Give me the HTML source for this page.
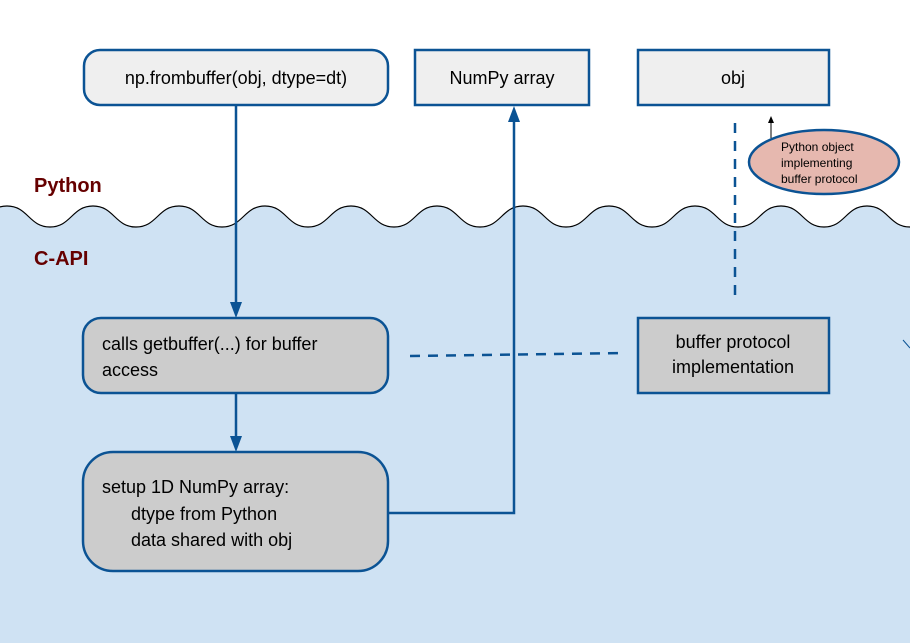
<!DOCTYPE html>
<html><head><meta charset="utf-8"><style>
html,body{margin:0;padding:0;background:#fff;}
svg{display:block;font-family:"Liberation Sans",Arial,sans-serif;}
</style></head><body>
<svg width="910" height="643" viewBox="0 0 910 643">
<path d="M-36,227 c21,0 22,-21 43,-21 c21,0 22,21 43,21 c21,0 22,-21 43,-21 c21,0 22,21 43,21 c21,0 22,-21 43,-21 c21,0 22,21 43,21 c21,0 22,-21 43,-21 c21,0 22,21 43,21 c21,0 22,-21 43,-21 c21,0 22,21 43,21 c21,0 22,-21 43,-21 c21,0 22,21 43,21 c21,0 22,-21 43,-21 c21,0 22,21 43,21 c21,0 22,-21 43,-21 c21,0 22,21 43,21 c21,0 22,-21 43,-21 c21,0 22,21 43,21 c21,0 22,-21 43,-21 c21,0 22,21 43,21 c21,0 22,-21 43,-21 c21,0 22,21 43,21 c21,0 22,-21 43,-21 c21,0 22,21 43,21 L996,643 L-36,643 z" fill="#cfe2f3" stroke="none"/>
<path d="M-36,227 c21,0 22,-21 43,-21 c21,0 22,21 43,21 c21,0 22,-21 43,-21 c21,0 22,21 43,21 c21,0 22,-21 43,-21 c21,0 22,21 43,21 c21,0 22,-21 43,-21 c21,0 22,21 43,21 c21,0 22,-21 43,-21 c21,0 22,21 43,21 c21,0 22,-21 43,-21 c21,0 22,21 43,21 c21,0 22,-21 43,-21 c21,0 22,21 43,21 c21,0 22,-21 43,-21 c21,0 22,21 43,21 c21,0 22,-21 43,-21 c21,0 22,21 43,21 c21,0 22,-21 43,-21 c21,0 22,21 43,21 c21,0 22,-21 43,-21 c21,0 22,21 43,21 c21,0 22,-21 43,-21 c21,0 22,21 43,21" fill="none" stroke="#000" stroke-width="1.2"/>
<text x="34" y="192" font-size="20" font-weight="bold" fill="#660000">Python</text>
<text x="34" y="265" font-size="20" font-weight="bold" fill="#660000">C-API</text>

<rect x="84" y="50" width="304" height="55" rx="16" fill="#efefef" stroke="#0b5394" stroke-width="2.5"/>
<text x="236" y="84" font-size="18" text-anchor="middle" fill="#000">np.frombuffer(obj, dtype=dt)</text>
<rect x="415" y="50" width="174" height="55" fill="#efefef" stroke="#0b5394" stroke-width="2.5"/>
<text x="502" y="84" font-size="18" text-anchor="middle">NumPy array</text>
<rect x="638" y="50" width="191" height="55" fill="#efefef" stroke="#0b5394" stroke-width="2.5"/>
<text x="733" y="84" font-size="18" text-anchor="middle">obj</text>

<rect x="83" y="318" width="305" height="75" rx="18" fill="#cccccc" stroke="#0b5394" stroke-width="2.5"/>
<text x="102" y="350" font-size="18">calls getbuffer(...) for buffer</text>
<text x="102" y="376" font-size="18">access</text>
<rect x="83" y="452" width="305" height="119" rx="30" fill="#cccccc" stroke="#0b5394" stroke-width="2.5"/>
<text x="102" y="493" font-size="18">setup 1D NumPy array:</text>
<text x="131" y="520" font-size="18">dtype from Python</text>
<text x="131" y="546" font-size="18">data shared with obj</text>
<rect x="638" y="318" width="191" height="75" fill="#cccccc" stroke="#0b5394" stroke-width="2.5"/>
<text x="733" y="348" font-size="18" text-anchor="middle">buffer protocol</text>
<text x="733" y="373" font-size="18" text-anchor="middle">implementation</text>

<g stroke="#0b5394" stroke-width="2.5" fill="none">
<line x1="236" y1="105" x2="236" y2="305"/>
<line x1="236" y1="393" x2="236" y2="440"/>
<polyline points="389,513 514,513 514,120"/>
<line x1="410" y1="356" x2="625" y2="353" stroke-dasharray="10,8"/>
<line x1="735" y1="123" x2="735" y2="302" stroke-dasharray="10,8"/>
<line x1="903" y1="340" x2="910" y2="348" stroke-width="1"/>
</g>
<g fill="#0b5394">
<polygon points="230,302 242,302 236,318"/>
<polygon points="230,436 242,436 236,452"/>
<polygon points="508,122 520,122 514,106"/>
</g>
<line x1="771" y1="138" x2="771" y2="122" stroke="#000" stroke-width="1"/>
<polygon points="768,123 774,123 771,116" fill="#000"/>
<ellipse cx="824" cy="162" rx="75" ry="32" fill="#e6b8af" stroke="#0b5394" stroke-width="2.5"/>
<text x="781" y="151" font-size="12">Python object</text>
<text x="781" y="167" font-size="12">implementing</text>
<text x="781" y="183" font-size="12">buffer protocol</text>
</svg>
</body></html>
